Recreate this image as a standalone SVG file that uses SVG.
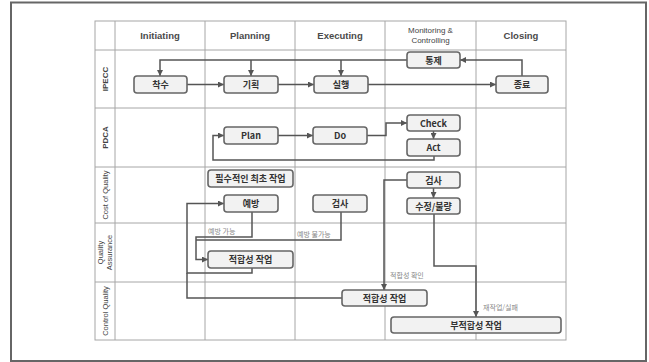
<svg xmlns="http://www.w3.org/2000/svg" width="649" height="362" viewBox="0 0 649 362">
<style>
.grid{stroke:#a6a6a6;stroke-width:1;fill:none}
.node rect{fill:#f2f2f2;stroke:#666;stroke-width:1.6}
.node text{font-family:"Noto Sans CJK KR","Liberation Sans",sans-serif;font-size:9px;font-weight:bold;fill:#333;text-anchor:middle}
.hdr{font-family:"Liberation Sans","Noto Sans CJK KR",sans-serif;font-size:9.5px;font-weight:bold;fill:#4a4a4a;text-anchor:middle}
.hdr2{font-family:"Liberation Sans",sans-serif;font-size:8px;fill:#444;text-anchor:middle}
.row{font-family:"Liberation Sans",sans-serif;font-size:7.5px;fill:#444;text-anchor:middle}
.rowb{font-family:"Liberation Sans",sans-serif;font-size:8px;font-weight:bold;fill:#444;text-anchor:middle}
.lbl{font-family:"Noto Sans CJK KR","Liberation Sans",sans-serif;font-size:7px;fill:#888}
.conn path{fill:none;stroke:#555;stroke-width:1.5}
</style>
<defs>
<marker id="ah" viewBox="0 0 10 10" refX="10" refY="5" markerWidth="4" markerHeight="4" orient="auto" markerUnits="strokeWidth">
<path d="M0,0 L10,5 L0,10 z" fill="#555"/>
</marker>
</defs>
<rect x="11" y="2.5" width="635" height="358.5" fill="#fff" stroke="#666" stroke-width="2"/>
<g id="grid">
<rect class="grid" x="95" y="21" width="471" height="319"/>
<path class="grid" d="M115,21V340M205,21V340M295,21V340M385,21V340M476,21V340M95,50H566M95,108H566M95,167H566M95,223H566M95,282H566"/>
</g>
<g id="headers">
<text class="hdr" x="160" y="39">Initiating</text>
<text class="hdr" x="250" y="39">Planning</text>
<text class="hdr" x="340" y="39">Executing</text>
<text class="hdr2" x="430.5" y="33">Monitoring &amp;</text>
<text class="hdr2" x="430.5" y="43">Controlling</text>
<text class="hdr" x="521" y="39">Closing</text>
</g>
<g id="rowlabels">
<text class="rowb" transform="translate(108,79) rotate(-90)">IPECC</text>
<text class="rowb" transform="translate(108,137.5) rotate(-90)">PDCA</text>
<text class="row" transform="translate(108,195) rotate(-90)">Cost of Quality</text>
<text class="row" transform="translate(103,252.5) rotate(-90)">Quality</text>
<text class="row" transform="translate(111.5,252.5) rotate(-90)">Assurance</text>
<text class="row" transform="translate(108,311) rotate(-90)">Control Quality</text>
</g>
<g class="conn" id="connectors">
<path d="M187,84.5H224" marker-end="url(#ah)"/>
<path d="M278,84.5H314" marker-end="url(#ah)"/>
<path d="M368,84.5H496" marker-end="url(#ah)"/>
<path d="M522,76V60H460" marker-end="url(#ah)"/>
<path d="M407,60H160V76" marker-end="url(#ah)"/>
<path d="M251,60V76" marker-end="url(#ah)"/>
<path d="M341,60V76" marker-end="url(#ah)"/>
<path d="M278,135.5H313" marker-end="url(#ah)"/>
<path d="M367,135.5H386V123H407" marker-end="url(#ah)"/>
<path d="M433.5,131V139" marker-end="url(#ah)"/>
<path d="M434,156V160H213V135.5H224" marker-end="url(#ah)"/>
<path d="M433.5,188V198" marker-end="url(#ah)"/>
<path d="M407,180H384V290" marker-end="url(#ah)"/>
<path d="M434,214V266H476V317" marker-end="url(#ah)"/>
<path d="M252,212V237H196V259.5H208" marker-end="url(#ah)"/>
<path d="M341,212V240H196"/>
<path d="M252,268V273H187V203.5H224" marker-end="url(#ah)"/>
<path d="M342,298H187V273"/>
</g>
<g id="labels">
<text class="lbl" x="208" y="234">예방 가능</text>
<text class="lbl" x="297" y="237">예방 불가능</text>
<text class="lbl" x="390" y="278">적합성 확인</text>
<text class="lbl" x="483" y="310">재작업/실패</text>
</g>
<g class="node" id="n-chaksu"><rect x="134" y="76" width="53" height="17" rx="3"/><text x="160.5" y="88">착수</text></g>
<g class="node" id="n-gihoek"><rect x="224" y="76" width="54" height="17" rx="3"/><text x="251" y="88">기획</text></g>
<g class="node" id="n-silhaeng"><rect x="314" y="76" width="54" height="17" rx="3"/><text x="341" y="88">실행</text></g>
<g class="node" id="n-tongje"><rect x="407" y="52" width="53" height="16" rx="3"/><text x="433.5" y="63.5">통제</text></g>
<g class="node" id="n-jongryo"><rect x="496" y="76" width="52" height="17" rx="3"/><text x="522" y="88">종료</text></g>
<g class="node" id="n-plan"><rect x="224" y="127" width="54" height="17" rx="3"/><text x="251" y="139">Plan</text></g>
<g class="node" id="n-do"><rect x="313" y="127" width="54" height="17" rx="3"/><text x="340" y="139">Do</text></g>
<g class="node" id="n-check"><rect x="407" y="115" width="53" height="16" rx="3"/><text x="433.5" y="126.5">Check</text></g>
<g class="node" id="n-act"><rect x="407" y="139" width="53" height="17" rx="3"/><text x="433.5" y="151">Act</text></g>
<g class="node" id="n-first"><rect x="208" y="170" width="85" height="17" rx="3"/><text x="250.5" y="182">필수적인 최초 작업</text></g>
<g class="node" id="n-yebang"><rect x="224" y="195" width="54" height="17" rx="3"/><text x="251" y="207">예방</text></g>
<g class="node" id="n-geomsa1"><rect x="313" y="195" width="54" height="17" rx="3"/><text x="340" y="207">검사</text></g>
<g class="node" id="n-geomsa2"><rect x="407" y="172" width="53" height="16" rx="3"/><text x="433.5" y="183.5">검사</text></g>
<g class="node" id="n-sujeong"><rect x="407" y="198" width="53" height="16" rx="3"/><text x="433.5" y="209.5">수정/불량</text></g>
<g class="node" id="n-jeokhap1"><rect x="208" y="251" width="85" height="17" rx="3"/><text x="250.5" y="263">적합성 작업</text></g>
<g class="node" id="n-jeokhap2"><rect x="342" y="290" width="85" height="16" rx="3"/><text x="384.5" y="301.5">적합성 작업</text></g>
<g class="node" id="n-bujeokhap"><rect x="391" y="317" width="170" height="16" rx="3"/><text x="476" y="328.5">부적합성 작업</text></g>
</svg>
